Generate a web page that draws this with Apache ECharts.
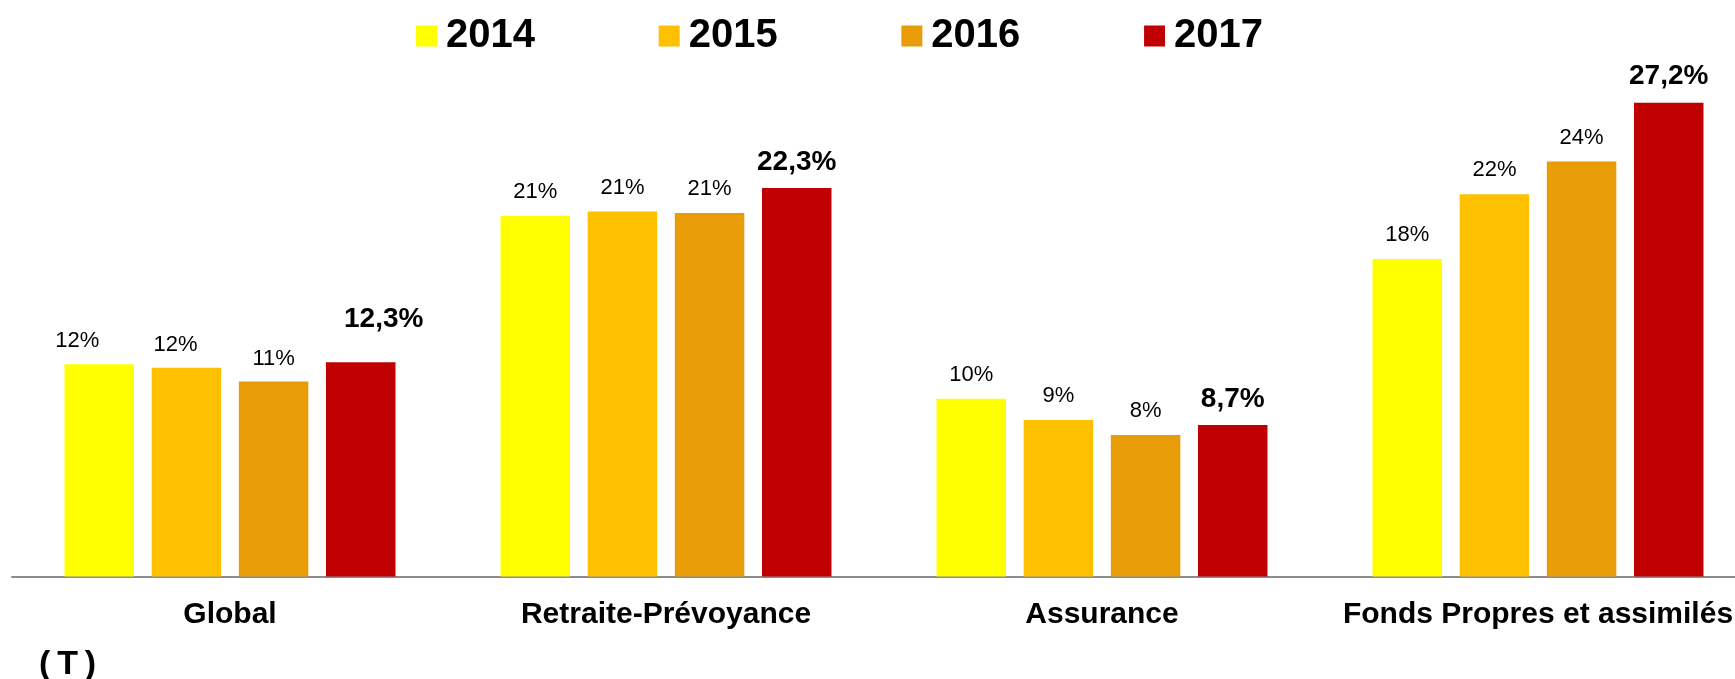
<!DOCTYPE html>
<html>
<head>
<meta charset="utf-8">
<script src="https://cdn.jsdelivr.net/npm/echarts@6/dist/echarts.min.js"></script>
<style>
html,body{margin:0;padding:0;background:#fff;}
#chart{width:1735px;height:679px;}
</style>
</head>
<body>
<div id="chart"></div>
<script>
// ---- data ----
var categories = ['Global', 'Retraite-Prévoyance', 'Assurance', 'Fonds Propres et assimilés'];
var seriesNames = ['2014', '2015', '2016', '2017'];
var values2014 = [12.19, 20.71, 10.20, 18.22];
var values2015 = [11.98, 20.95, 8.98, 21.95];
var values2016 = [11.19, 20.86, 8.12, 23.82];
var values2017 = [12.3, 22.3, 8.7, 27.2];
var unitNote = '(\u2009T\u2009)';

// ---- styles ----
var colors = ['#FFFF00', '#FFC000', '#E89C08', '#C00000'];
var FONT = '"Liberation Sans", Arial, Helvetica, sans-serif';
// label offsets (style only) for the first category, per series
var firstCatLabelOffset = [[-22, 1], [-11, 1], [0, 1], [23, -17]];

var allValues = [values2014, values2015, values2016, values2017];

function fmtInt(p) { return Math.round(p.value) + '%'; }
function fmtDec(p) { return p.value.toFixed(1).replace('.', ',') + '%'; }

var series = allValues.map(function (vals, si) {
  var bold = si === 3;
  return {
    name: seriesNames[si],
    type: 'bar',
    barWidth: 69.5,
    barGap: '25.4%',
    itemStyle: { color: colors[si] },
    label: {
      show: true,
      position: 'top',
      distance: bold ? 12 : 13,
      color: '#000',
      fontFamily: FONT,
      fontSize: bold ? 28 : 22,
      fontWeight: bold ? 'bold' : 'normal',
      formatter: bold ? fmtDec : fmtInt
    },
    data: vals.map(function (v, ci) {
      if (ci === 0) {
        return { value: v, label: { offset: firstCatLabelOffset[si] } };
      }
      return v;
    })
  };
});

var chart = echarts.init(document.getElementById('chart'), null, { renderer: 'canvas' });
chart.setOption({
  animation: false,
  backgroundColor: '#fff',
  color: colors,
  legend: {
    data: seriesNames,
    left: 416,
    top: 16,
    padding: 0,
    icon: 'rect',
    itemWidth: 21,
    itemHeight: 21,
    itemGap: 123.7,
    textStyle: {
      fontFamily: FONT,
      fontSize: 40,
      fontWeight: 'bold',
      color: '#000',
      width: 88,
      lineHeight: 40,
      padding: [0, 0, 0, 4]
    }
  },
  grid: {
    left: 12,
    right: -21,
    top: 53.9,
    bottom: 102.5,
    containLabel: false,
    outerBoundsMode: 'none'
  },
  xAxis: {
    type: 'category',
    data: categories,
    axisLine: { show: true, lineStyle: { color: '#8C8C8C', width: 2 } },
    axisTick: { show: false },
    axisLabel: {
      color: '#000',
      fontFamily: FONT,
      fontSize: 30,
      fontWeight: 'bold',
      margin: 23,
      interval: 0
    }
  },
  yAxis: {
    type: 'value',
    min: 0,
    max: 30,
    show: false,
    splitLine: { show: false }
  },
  graphic: [{
    type: 'text',
    left: 39,
    top: 648,
    style: {
      text: unitNote,
      fontFamily: FONT,
      fontSize: 34,
      fontWeight: 'bold',
      fill: '#000'
    }
  }],
  series: series
});
</script>
</body>
</html>
